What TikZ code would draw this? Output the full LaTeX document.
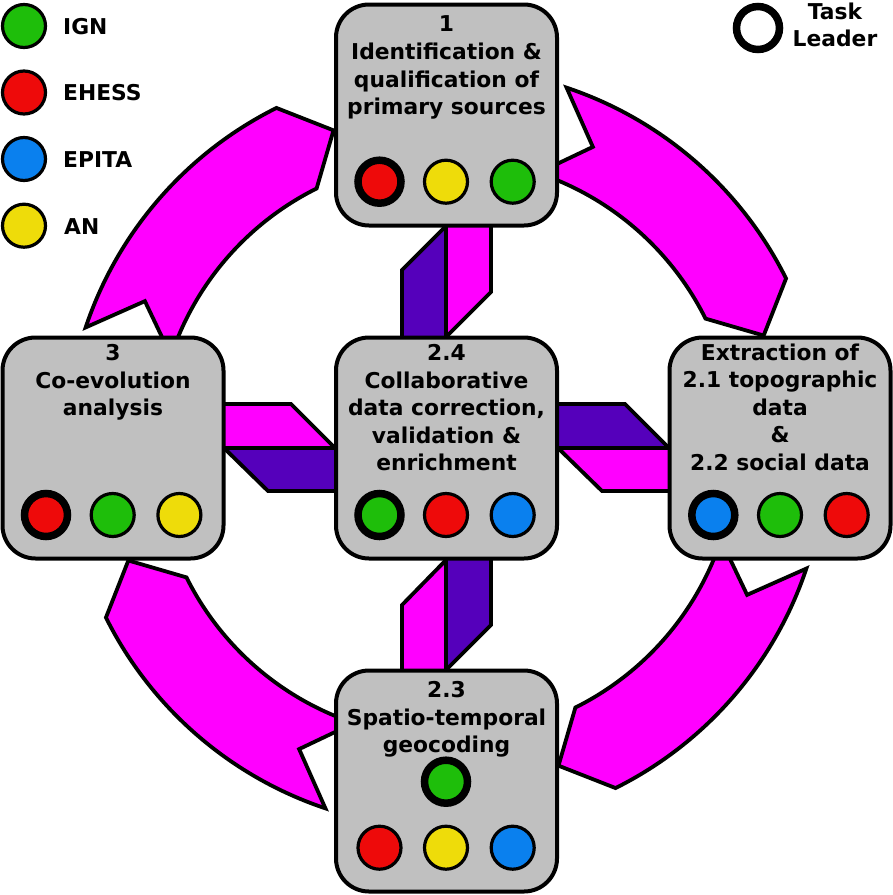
\documentclass[tikz,border=0pt]{standalone}
\usepackage{fontspec}
\setmainfont{DejaVu Sans}
\definecolor{boxgray}{RGB}{192,192,192}
\definecolor{mag}{RGB}{255,0,255}
\definecolor{purp}{RGB}{85,0,187}
\definecolor{cgreen}{RGB}{30,190,10}
\definecolor{cred}{RGB}{238,10,10}
\definecolor{cblue}{RGB}{10,128,238}
\definecolor{cyellow}{RGB}{238,220,10}
\begin{document}
\begin{tikzpicture}[x=1pt,y=1pt,
  box/.style={draw=black, line width=4pt, fill=boxgray, rounded corners=33pt,
    minimum width=221pt, minimum height=221pt, inner sep=0pt, outer sep=0pt},
  org/.style={circle, draw=black, line width=3.2pt, minimum size=43pt, inner sep=0pt, fill=#1},
  lead/.style={org=#1, line width=7.5pt},
  bigarrow/.style={draw=black, line width=3.8pt, fill=mag, line join=miter},
  inarrow/.style={draw=black, line width=3.8pt, fill=mag},
  outarrow/.style={draw=black, line width=3.8pt, fill=purp},
  txt/.style={font=\fontsize{21.8}{27.6}\selectfont\bfseries, align=center, inner sep=0pt, anchor=north},
  legtxt/.style={font=\fontsize{21.8}{27.6}\selectfont\bfseries, inner sep=0pt, anchor=base west},
]
\useasboundingbox (0,0) rectangle (893,-895);

% big circular arrows (clockwise)
\foreach \r in {0,90,180,270} {
  \draw[bigarrow, shift={(446,-448)}]
    (161.5-\r:380) arc[start angle=161.5-\r, end angle=116.5-\r, radius=380]
    -- (109.5-\r:337)
    -- (116.5-\r:290) arc[start angle=116.5-\r, end angle=161.5-\r, radius=290]
    -- (154-\r:335) -- cycle;
}

% small double connectors
% top
\draw[outarrow] (402,-345) -- (402,-270) -- (446,-226) -- (446,-345) -- cycle;
\draw[inarrow] (446,-218) -- (491,-218) -- (491,-292) -- (446,-337) -- cycle;
% bottom
\draw[inarrow] (402,-675) -- (402,-605) -- (446,-560) -- (446,-675) -- cycle;
\draw[outarrow] (446,-553) -- (491,-553) -- (491,-625) -- (446,-670) -- cycle;
% left
\draw[inarrow] (218,-404) -- (291,-404) -- (335,-448) -- (218,-448) -- cycle;
\draw[outarrow] (224,-448) -- (268,-491) -- (342,-491) -- (342,-448) -- cycle;
% right
\draw[outarrow] (550,-404) -- (625,-404) -- (669,-448) -- (550,-448) -- cycle;
\draw[inarrow] (558,-448) -- (602,-491) -- (676,-491) -- (676,-448) -- cycle;

% boxes
\node[box] (b1) at (446.5,-115) {};
\node[box] (b3) at (113,-448) {};
\node[box] (b24) at (446.5,-448) {};
\node[box] (bR) at (780,-448) {};
\node[box] (b23) at (446.5,-781) {};

% box texts
\node[txt] (t1) at (446.5,-15.8) {1\\Identification \&\\qualification of\\primary sources};
\node[txt] (t3) at (113,-344.1) {3\\Co-evolution\\analysis};
\node[txt] (t24) at (446.5,-344.1) {2.4\\Collaborative\\data correction,\\validation \&\\enrichment};
\node[txt] (tR) at (780,-343.4) {Extraction of\\2.1 topographic\\data\\\&\\2.2 social data};
\node[txt] (t23) at (446.5,-681.4) {2.3\\Spatio-temporal\\geocoding};

% partner circles
\node[lead=cred] (c11) at (379.5,-181.7) {};
\node[org=cyellow] (c12) at (446,-181.7) {};
\node[org=cgreen] (c13) at (512.7,-181.7) {};

\node[lead=cred] (c31) at (46,-515) {};
\node[org=cgreen] (c32) at (112.7,-515) {};
\node[org=cyellow] (c33) at (179.4,-515) {};

\node[lead=cgreen] (c241) at (379.5,-515) {};
\node[org=cred] (c242) at (446,-515) {};
\node[org=cblue] (c243) at (512.7,-515) {};

\node[lead=cblue] (cR1) at (713.3,-515) {};
\node[org=cgreen] (cR2) at (780,-515) {};
\node[org=cred] (cR3) at (846.7,-515) {};

\node[lead=cgreen] (c230) at (446,-781.7) {};
\node[org=cred] (c231) at (379.5,-847.7) {};
\node[org=cyellow] (c232) at (446,-847.7) {};
\node[org=cblue] (c233) at (512.7,-847.7) {};

% legend
\node[org=cgreen] (lg) at (24,-26) {};
\node[org=cred] (lr) at (24,-92.5) {};
\node[org=cblue] (lb) at (24,-159) {};
\node[org=cyellow] (ly) at (24,-225.7) {};
\node[legtxt] (lgt) at (63,-34) {IGN};
\node[legtxt] (lrt) at (63,-100.7) {EHESS};
\node[legtxt] (lbt) at (63,-167.3) {EPITA};
\node[legtxt] (lyt) at (64,-234.3) {AN};

\node[lead=white] (tl) at (758,-28) {};
\node[txt] (tlt) at (835,-2.4) {Task\\Leader};
\end{tikzpicture}
\end{document}
